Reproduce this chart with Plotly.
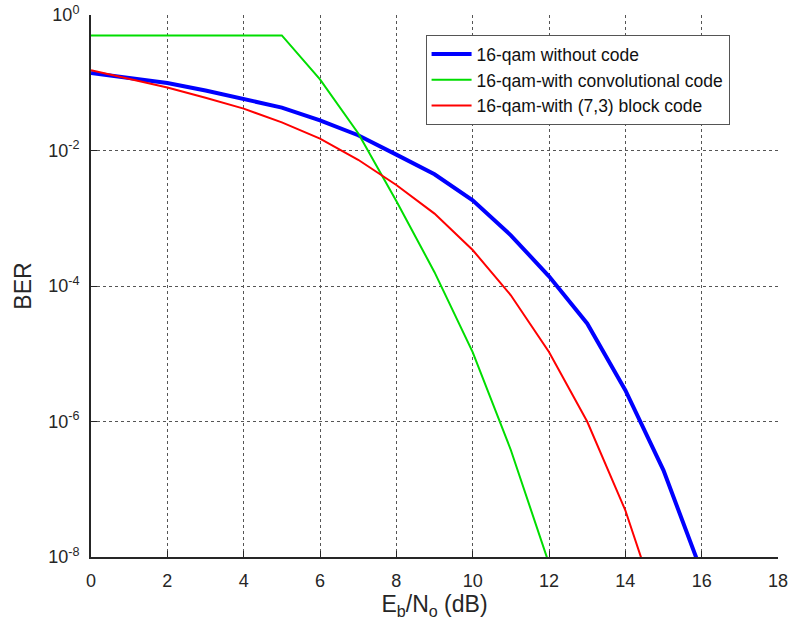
import plotly.graph_objects as go

ebno = [0, 1, 2, 3, 4, 5, 6, 7, 8, 9, 10, 11, 12, 13, 14, 15, 16]

ber_uncoded = [0.139, 0.119, 0.099, 0.077, 0.058, 0.043, 0.0279, 0.0168, 8.7e-3,
               4.45e-3, 1.84e-3, 5.6e-4, 1.39e-4, 2.8e-5, 2.9e-6, 1.9e-7, 6e-9]

ebno_conv = [0, 1, 2, 3, 4, 5, 6, 7, 8, 9, 10, 11, 12]
ber_conv = [0.5, 0.5, 0.5, 0.5, 0.5, 0.5, 0.112, 0.018, 1.8e-3, 1.6e-4,
            1.06e-5, 3.8e-7, 8e-9]

ebno_block = [0, 1, 2, 3, 4, 5, 6, 7, 8, 9, 10, 11, 12, 13, 14, 15]
ber_block = [0.153, 0.115, 0.085, 0.06, 0.0415, 0.026, 0.015, 7.3e-3, 3.1e-3,
             1.17e-3, 3.4e-4, 7.3e-5, 1.06e-5, 1e-6, 4.9e-8, 1e-9]

names = ["16-qam without code", "16-qam-with convolutional code",
         "16-qam-with (7,3) block code"]

x_ticks = [0, 2, 4, 6, 8, 10, 12, 14, 16, 18]
y_ticks = [1, 1e-2, 1e-4, 1e-6, 1e-8]
y_ticktext = ["10<sup>0</sup>", "10<sup>-2</sup>", "10<sup>-4</sup>",
              "10<sup>-6</sup>", "10<sup>-8</sup>"]

FONT = "Liberation Sans, Arial, sans-serif"

fig = go.Figure()
fig.add_trace(go.Scatter(x=ebno, y=ber_uncoded, mode="lines", name=names[0],
                         line=dict(color="#0000FF", width=4)))
fig.add_trace(go.Scatter(x=ebno_conv, y=ber_conv, mode="lines", name=names[1],
                         line=dict(color="#00DD00", width=2)))
fig.add_trace(go.Scatter(x=ebno_block, y=ber_block, mode="lines", name=names[2],
                         line=dict(color="#FF0000", width=2)))

fig.update_layout(
    width=790, height=634,
    margin=dict(l=91, r=12, t=15, b=77),
    paper_bgcolor="white", plot_bgcolor="white",
    font=dict(family=FONT, color="#262626", size=18),
    showlegend=True,
    legend=dict(x=0.487, y=0.963, xanchor="left", yanchor="top",
                bgcolor="white", bordercolor="#555555", borderwidth=1,
                font=dict(family=FONT, size=17.5, color="#111111"),
                tracegroupgap=0, itemwidth=40),
    xaxis=dict(range=[0, 18], tickvals=x_ticks, ticks="inside", ticklen=6,
               tickcolor="#262626", showline=True, linecolor="#262626",
               linewidth=2, showgrid=True, gridcolor="#555555", griddash="dot",
               gridwidth=1, zeroline=False, mirror=False, automargin=False,
               ticklabelstandoff=6, ticklabeloverflow="allow",
               tickfont=dict(family=FONT, size=18, color="#262626"),
               title=dict(text="E<sub>b</sub>/N<sub>o</sub> (dB)",
                          font=dict(family=FONT, size=23), standoff=6)),
    yaxis=dict(type="log", range=[-8, 0], tickvals=y_ticks, ticktext=y_ticktext,
               ticks="inside", ticklen=6, tickcolor="#262626", showline=True,
               linecolor="#262626", linewidth=2, showgrid=True,
               gridcolor="#555555", griddash="dot", gridwidth=1,
               zeroline=False, mirror=False, ticklabelstandoff=6,
               automargin=False, ticklabeloverflow="allow",
               tickfont=dict(family=FONT, size=18, color="#262626"),
               title=dict(text="BER", font=dict(family=FONT, size=23), standoff=10)),
)

fig.write_html("out.html",
               config={"displayModeBar": False},
               post_script="document.body.style.margin='0';"
                           "document.body.style.overflow='hidden';")
